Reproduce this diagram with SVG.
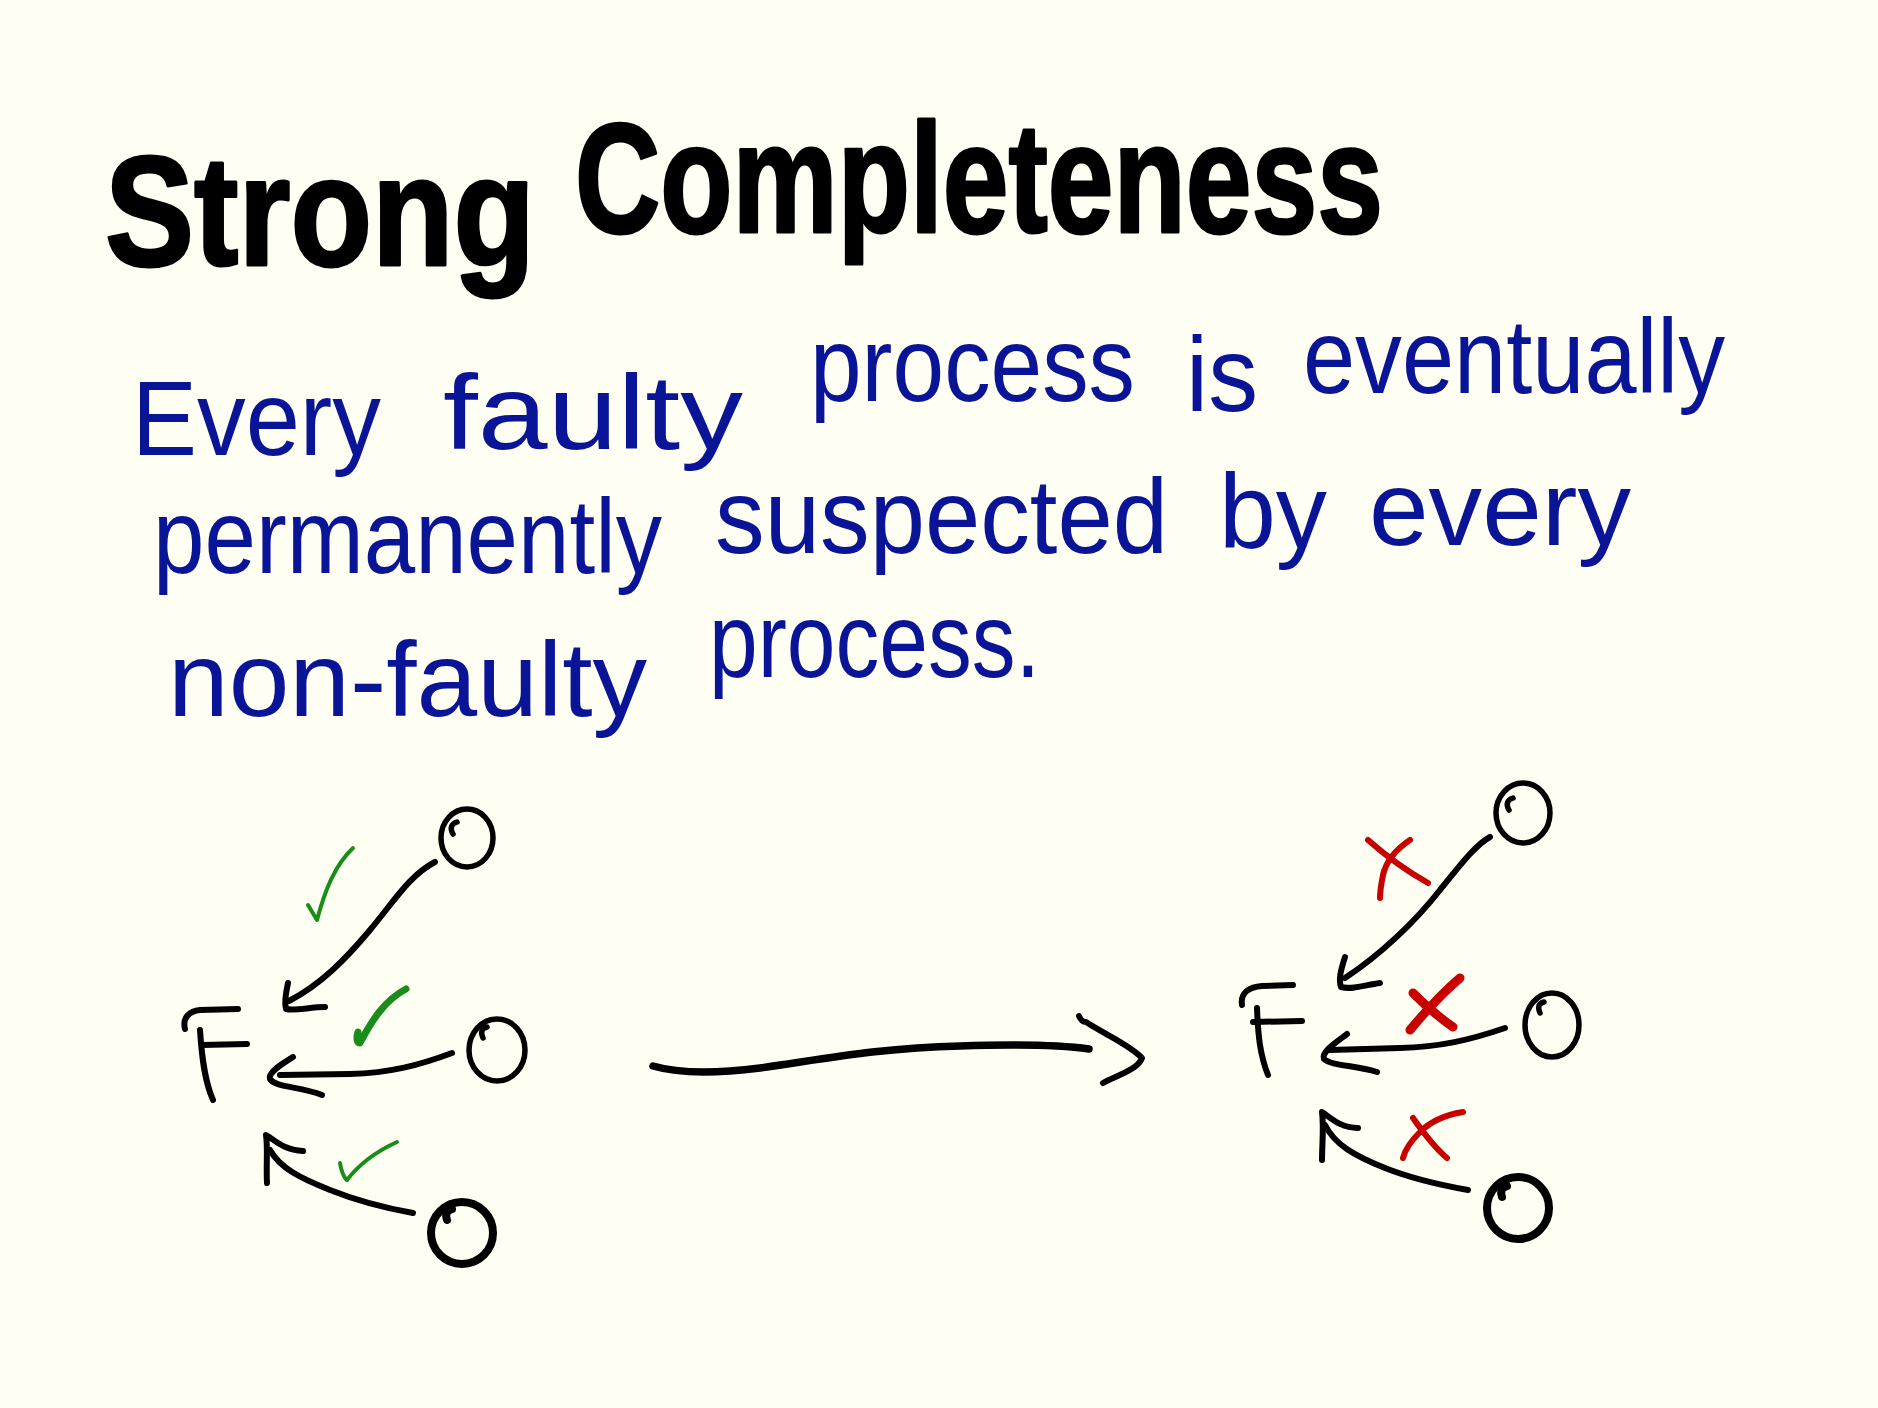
<svg xmlns="http://www.w3.org/2000/svg" width="1878" height="1408" viewBox="0 0 1878 1408">
<style>
.ink{fill:none;stroke:#000;stroke-width:6;stroke-linecap:round;stroke-linejoin:round}
.thick{stroke-width:7.5}
.circ{fill:none;stroke:#000;stroke-width:5.5;stroke-linecap:round}
.circ3{stroke-width:8}
.ok{fill:none;stroke:#1a8c1a;stroke-width:4;stroke-linecap:round;stroke-linejoin:round}
.okb{stroke-width:7}
.no{fill:none;stroke:#c80000;stroke-width:6;stroke-linecap:round;stroke-linejoin:round}
.nob{stroke-width:9}
.title{font-family:"Liberation Sans",Arial,sans-serif;font-weight:bold;font-size:155px;fill:#000;stroke:#000;stroke-width:3;stroke-linejoin:round}
.body{font-family:"Liberation Sans",Arial,sans-serif;font-size:105px;fill:#0a1496}
</style>
<rect x="0" y="0" width="1878" height="1408" fill="#fefff2"/>

<g id="title">
<text class="title" x="105" y="265" textLength="430" lengthAdjust="spacingAndGlyphs">Strong</text>
<text class="title" x="575" y="232" textLength="808" lengthAdjust="spacingAndGlyphs">Completeness</text>
</g>

<g id="definition">
<text class="body" x="132" y="455" textLength="249" lengthAdjust="spacingAndGlyphs">Every</text>
<text class="body" x="443" y="449" textLength="300" lengthAdjust="spacingAndGlyphs">faulty</text>
<text class="body" x="810" y="401" textLength="325" lengthAdjust="spacingAndGlyphs">process</text>
<text class="body" x="1186" y="411" textLength="72" lengthAdjust="spacingAndGlyphs">is</text>
<text class="body" x="1303" y="393" textLength="422" lengthAdjust="spacingAndGlyphs">eventually</text>
<text class="body" x="153" y="573" textLength="509" lengthAdjust="spacingAndGlyphs">permanently</text>
<text class="body" x="715" y="553" textLength="453" lengthAdjust="spacingAndGlyphs">suspected</text>
<text class="body" x="1219" y="548" textLength="108" lengthAdjust="spacingAndGlyphs">by</text>
<text class="body" x="1369" y="545" textLength="262" lengthAdjust="spacingAndGlyphs">every</text>
<text class="body" x="168" y="716" textLength="479" lengthAdjust="spacingAndGlyphs">non-faulty</text>
<text class="body" x="709" y="677" textLength="331" lengthAdjust="spacingAndGlyphs">process.</text>
</g>

<!-- left cluster nodes -->
<g id="F-left">
<path class="ink" d="M185,1029 C182,1017 190,1011 200,1010 L238,1009"/>
<path class="ink" d="M200,1030 C202,1060 205,1082 213,1100"/>
<path class="ink" d="M202,1045 L247,1044"/>
</g>
<g id="p-left-1">
<ellipse class="circ" cx="467" cy="838" rx="26" ry="29"/>
<path class="circ" d="M453,834 q-5,-9 4,-12"/>
</g>
<g id="p-left-2">
<ellipse class="circ" cx="497" cy="1050" rx="28" ry="31"/>
<path class="circ" d="M483,1038 q-4,-9 4,-11"/>
</g>
<g id="p-left-3">
<ellipse class="circ circ3" cx="462" cy="1233" rx="31" ry="31"/>
<path class="circ circ3" d="M447,1220 q-3,-9 5,-11"/>
</g>

<!-- right cluster nodes -->
<g id="F-right">
<path class="ink" d="M1242,1005 C1240,992 1250,987 1262,986 L1293,985"/>
<path class="ink" d="M1257,1008 C1258,1035 1260,1055 1268,1075"/>
<path class="ink" d="M1253,1022 L1302,1021"/>
</g>
<g id="p-right-1">
<ellipse class="circ" cx="1523" cy="813" rx="27" ry="30"/>
<path class="circ" d="M1509,810 q-5,-9 4,-12"/>
</g>
<g id="p-right-2">
<ellipse class="circ" cx="1552" cy="1025" rx="27" ry="32"/>
<path class="circ" d="M1540,1013 q-4,-9 4,-11"/>
</g>
<g id="p-right-3">
<ellipse class="circ circ3" cx="1518" cy="1208" rx="31" ry="31"/>
<path class="circ circ3" d="M1502,1197 q-3,-9 5,-11"/>
</g>

<g id="connectors">
<!-- left arrows -->
<path class="ink" d="M435,862 C410,875 395,900 370,930 C345,960 320,985 289,1001"/>
<path class="ink" d="M288,983 C286,992 284,1002 286,1009 C296,1011 310,1007 325,1007"/>
<path class="ink" d="M452,1053 C420,1065 390,1073 350,1074 L280,1075"/>
<path class="ink" d="M293,1057 C282,1064 268,1072 270,1079 C276,1088 300,1086 322,1095"/>
<path class="ink" d="M413,1213 C385,1208 355,1200 330,1190 C300,1178 280,1168 270,1150"/>
<path class="ink" d="M267,1183 C266,1165 268,1148 266,1135 C275,1140 283,1150 303,1151"/>
<!-- right arrows -->
<path class="ink" d="M1490,837 C1475,845 1458,868 1440,890 C1415,922 1380,955 1345,978"/>
<path class="ink" d="M1345,957 C1342,967 1338,978 1341,987 C1352,990 1365,985 1380,983"/>
<path class="ink" d="M1505,1028 C1470,1040 1440,1047 1400,1048 L1330,1050"/>
<path class="ink" d="M1347,1034 C1335,1043 1321,1052 1324,1059 C1331,1066 1355,1065 1377,1072"/>
<path class="ink" d="M1468,1190 C1440,1185 1410,1178 1385,1168 C1355,1156 1335,1145 1325,1125"/>
<path class="ink" d="M1322,1160 C1322,1145 1324,1128 1322,1112 C1330,1117 1340,1128 1358,1128"/>
<!-- transition arrow -->
<path class="ink thick" d="M653,1066 C680,1074 720,1073 760,1068 C830,1058 880,1048 960,1046 C1020,1044 1060,1045 1089,1049"/>
<path class="ink" d="M1079,1016 C1081,1021 1083,1022 1086,1022 C1106,1035 1130,1045 1142,1058 C1138,1070 1115,1076 1103,1083"/>
</g>

<g id="marks">
<path class="ok" d="M308,905 L317,920 C325,890 335,865 353,848"/>
<path class="ok okb" d="M358,1032 C356,1038 357,1043 360,1043 C372,1020 385,1000 406,989"/>
<path class="ok" d="M340,1163 C341,1170 344,1178 347,1180 C360,1163 375,1152 397,1142"/>
<path class="no" d="M1368,840 C1385,855 1405,870 1428,883 M1410,840 C1395,850 1386,862 1383,875 C1381,885 1380,892 1380,898"/>
<path class="no nob" d="M1413,993 C1425,1005 1440,1018 1453,1027 M1460,978 C1440,995 1425,1012 1410,1030"/>
<path class="no" d="M1413,1118 C1425,1135 1435,1148 1447,1158 M1463,1112 C1445,1115 1430,1122 1420,1132 C1410,1142 1405,1150 1403,1158"/>
</g>
</svg>
